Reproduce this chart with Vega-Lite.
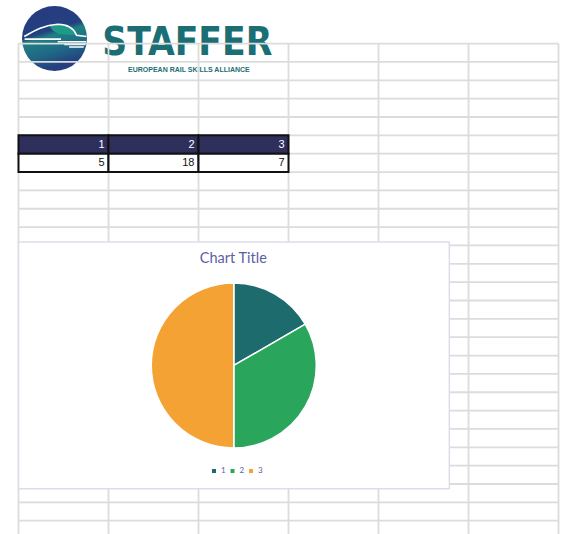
{
  "$schema": "https://vega.github.io/schema/vega-lite/v6.json",
  "width": 564,
  "height": 534,
  "autosize": "none",
  "padding": 0,
  "background": "#ffffff",
  "config": {"view": {"stroke": null}},
  "resolve": {"scale": {"color": "independent", "fill": "independent"}},
  "datasets": {
    "header": [{"brand": "STAFFER", "tagline": "EUROPEAN RAIL SKILLS ALLIANCE", "chartTitle": "Chart Title"}],
    "gridCols": [{"col": 0}, {"col": 1}, {"col": 2}, {"col": 3}, {"col": 4}, {"col": 5}, {"col": 6}],
    "gridRows": [{"row": 0}, {"row": 1}, {"row": 2}, {"row": 3}, {"row": 4}, {"row": 5}, {"row": 6}, {"row": 7}, {"row": 8}, {"row": 9}, {"row": 10}, {"row": 11}, {"row": 12}, {"row": 13}, {"row": 14}, {"row": 15}, {"row": 16}, {"row": 17}, {"row": 18}, {"row": 19}, {"row": 20}, {"row": 21}, {"row": 22}, {"row": 23}, {"row": 24}, {"row": 25}, {"row": 26}],
    "cells": [
      {"col": 0, "colEnd": 1, "row": 5, "rowEnd": 6, "text": "1", "part": "header"},
      {"col": 1, "colEnd": 2, "row": 5, "rowEnd": 6, "text": "2", "part": "header"},
      {"col": 2, "colEnd": 3, "row": 5, "rowEnd": 6, "text": "3", "part": "header"},
      {"col": 0, "colEnd": 1, "row": 6, "rowEnd": 7, "text": "5", "part": "value"},
      {"col": 1, "colEnd": 2, "row": 6, "rowEnd": 7, "text": "18", "part": "value"},
      {"col": 2, "colEnd": 3, "row": 6, "rowEnd": 7, "text": "7", "part": "value"}
    ],
    "pie": [{"category": "1", "value": 1}, {"category": "2", "value": 2}, {"category": "3", "value": 3}]
  },
  "layer": [
    {
      "data": {"name": "header"},
      "mark": {"type": "point", "shape": "circle", "filled": true, "size": 4225, "opacity": 1, "strokeWidth": 0,
        "fill": {"gradient": "linear", "x1": 0, "y1": 0, "x2": 0.3, "y2": 1, "stops": [
          {"offset": 0, "color": "#263a80"}, {"offset": 0.46, "color": "#24407f"}, {"offset": 0.54, "color": "#1f8082"}, {"offset": 0.78, "color": "#1f6886"}, {"offset": 1, "color": "#253f80"}]}},
      "encoding": {
        "x": {"datum": 0.4, "scale": {"type": "linear", "domain": [-0.2056, 6.0611], "nice": false, "zero": false}, "axis": null},
        "y": {"datum": -0.278, "scale": {"type": "linear", "domain": [-2.376, 26.725], "nice": false, "zero": false, "reverse": true}, "axis": null}
      }
    },
    {
      "data": {"name": "header"},
      "mark": {"type": "point", "filled": true, "size": 4225, "opacity": 1, "strokeWidth": 0, "fill": "#1d9a8a",
        "shape": "M -0.15 -0.38 C 0.1 -0.45 0.4 -0.43 0.55 -0.3 C 0.64 -0.22 0.67 -0.14 0.66 -0.1 L 0.15 -0.14 C 0.0 -0.2 -0.1 -0.28 -0.15 -0.38 Z"},
      "encoding": {
        "x": {"datum": 0.4, "scale": {"type": "linear", "domain": [-0.2056, 6.0611], "nice": false, "zero": false}, "axis": null},
        "y": {"datum": -0.278, "scale": {"type": "linear", "domain": [-2.376, 26.725], "nice": false, "zero": false, "reverse": true}, "axis": null}
      }
    },
    {
      "data": {"name": "header"},
      "mark": {"type": "point", "filled": false, "size": 4225, "opacity": 1, "stroke": "#ffffff", "strokeWidth": 1.6,
        "shape": "M -0.93 -0.06 C -0.6 -0.26 -0.3 -0.42 0.1 -0.44 C 0.4 -0.44 0.6 -0.3 0.68 -0.1 L 0.98 -0.06 M -0.92 0.02 L 0.2 0.02 M 0.1 0.1 L 0.97 0.1 M 0.3 0.18 L 0.95 0.18 M 0.45 0.26 L 0.9 0.26"},
      "encoding": {
        "x": {"datum": 0.4, "scale": {"type": "linear", "domain": [-0.2056, 6.0611], "nice": false, "zero": false}, "axis": null},
        "y": {"datum": -0.278, "scale": {"type": "linear", "domain": [-2.376, 26.725], "nice": false, "zero": false, "reverse": true}, "axis": null}
      }
    },
    {
      "data": {"name": "header"},
      "mark": {"type": "text", "align": "left", "baseline": "alphabetic", "font": "DejaVu Sans Condensed, sans-serif", "fontWeight": "bold", "fontSize": 38.5, "fill": "#1b6e73"},
      "encoding": {
        "text": {"field": "brand"},
        "x": {"datum": 0.931, "scale": {"type": "linear", "domain": [-0.2056, 6.0611], "nice": false, "zero": false}, "axis": null},
        "y": {"datum": 0.621, "scale": {"type": "linear", "domain": [-2.376, 26.725], "nice": false, "zero": false, "reverse": true}, "axis": null}
      }
    },
    {
      "data": {"name": "header"},
      "mark": {"type": "text", "align": "center", "baseline": "middle", "font": "Liberation Sans", "fontWeight": "bold", "fontSize": 7, "fill": "#1b6e73"},
      "encoding": {
        "text": {"field": "tagline"},
        "x": {"datum": 1.893, "scale": {"type": "linear", "domain": [-0.2056, 6.0611], "nice": false, "zero": false}, "axis": null},
        "y": {"datum": 1.439, "scale": {"type": "linear", "domain": [-2.376, 26.725], "nice": false, "zero": false, "reverse": true}, "axis": null}
      }
    },
    {
      "data": {"name": "gridCols"},
      "mark": {"type": "rule", "color": "#dcdcdc", "strokeWidth": 1.8},
      "encoding": {
        "x": {"field": "col", "type": "quantitative", "scale": {"type": "linear", "domain": [-0.2056, 6.0611], "nice": false, "zero": false}, "axis": null},
        "y": {"datum": 0, "scale": {"type": "linear", "domain": [-2.376, 26.725], "nice": false, "zero": false, "reverse": true}, "axis": null},
        "y2": {"datum": 26.725}
      }
    },
    {
      "data": {"name": "gridRows"},
      "mark": {"type": "rule", "color": "#dcdcdc", "strokeWidth": 1.8},
      "encoding": {
        "y": {"field": "row", "type": "quantitative", "scale": {"type": "linear", "domain": [-2.376, 26.725], "nice": false, "zero": false, "reverse": true}, "axis": null},
        "x": {"datum": 0, "scale": {"type": "linear", "domain": [-0.2056, 6.0611], "nice": false, "zero": false}, "axis": null},
        "x2": {"datum": 6}
      }
    },
    {
      "data": {"name": "cells"},
      "mark": {"type": "rect", "stroke": "#111111", "strokeWidth": 2},
      "encoding": {
        "x": {"field": "col", "type": "quantitative", "scale": {"type": "linear", "domain": [-0.2056, 6.0611], "nice": false, "zero": false}, "axis": null},
        "x2": {"field": "colEnd"},
        "y": {"field": "row", "type": "quantitative", "scale": {"type": "linear", "domain": [-2.376, 26.725], "nice": false, "zero": false, "reverse": true}, "axis": null},
        "y2": {"field": "rowEnd"},
        "fill": {"field": "part", "type": "nominal", "scale": {"domain": ["header", "value"], "range": ["#2e2f5b", "#ffffff"]}, "legend": null}
      }
    },
    {
      "data": {"name": "cells"},
      "transform": [{"filter": "datum.part === 'header'"}],
      "mark": {"type": "text", "align": "right", "baseline": "middle", "dx": -4, "dy": 9.7, "font": "Liberation Sans", "fontSize": 11, "fill": "#ffffff"},
      "encoding": {
        "text": {"field": "text"},
        "x": {"field": "colEnd", "type": "quantitative", "scale": {"type": "linear", "domain": [-0.2056, 6.0611], "nice": false, "zero": false}, "axis": null},
        "y": {"field": "row", "type": "quantitative", "scale": {"type": "linear", "domain": [-2.376, 26.725], "nice": false, "zero": false, "reverse": true}, "axis": null}
      }
    },
    {
      "data": {"name": "cells"},
      "transform": [{"filter": "datum.part === 'value'"}],
      "mark": {"type": "text", "align": "right", "baseline": "middle", "dx": -4, "dy": 9.7, "font": "Liberation Sans", "fontSize": 11, "fill": "#111111"},
      "encoding": {
        "text": {"field": "text"},
        "x": {"field": "colEnd", "type": "quantitative", "scale": {"type": "linear", "domain": [-0.2056, 6.0611], "nice": false, "zero": false}, "axis": null},
        "y": {"field": "row", "type": "quantitative", "scale": {"type": "linear", "domain": [-2.376, 26.725], "nice": false, "zero": false, "reverse": true}, "axis": null}
      }
    },
    {
      "data": {"name": "header"},
      "mark": {"type": "rect", "fill": "#ffffff", "stroke": "#dddde9", "strokeWidth": 1.5},
      "encoding": {
        "x": {"datum": 0, "scale": {"type": "linear", "domain": [-0.2056, 6.0611], "nice": false, "zero": false}, "axis": null},
        "x2": {"datum": 4.787},
        "y": {"datum": 10.81, "scale": {"type": "linear", "domain": [-2.376, 26.725], "nice": false, "zero": false, "reverse": true}, "axis": null},
        "y2": {"datum": 24.26}
      }
    },
    {
      "data": {"name": "pie"},
      "mark": {"type": "arc", "radius": 82.5, "stroke": "#ffffff", "strokeWidth": 1.5},
      "encoding": {
        "theta": {"field": "value", "type": "quantitative", "stack": true},
        "order": {"field": "category", "type": "ordinal"},
        "color": {"field": "category", "type": "nominal",
          "scale": {"domain": ["1", "2", "3"], "range": ["#1d6b6d", "#2aa65c", "#f4a234"]},
          "legend": {"orient": "none", "legendX": 210, "legendY": 467, "direction": "horizontal", "title": null, "symbolType": "square", "symbolSize": 16, "symbolStrokeWidth": 0, "labelFontSize": 8, "labelFont": "Lato", "labelColor": "#5b5ea6", "labelOffset": 3, "columnPadding": 2.5, "padding": 0}},
        "x": {"datum": 2.392, "scale": {"type": "linear", "domain": [-0.2056, 6.0611], "nice": false, "zero": false}, "axis": null},
        "y": {"datum": 17.54, "scale": {"type": "linear", "domain": [-2.376, 26.725], "nice": false, "zero": false, "reverse": true}, "axis": null}
      }
    },
    {
      "data": {"name": "header"},
      "mark": {"type": "text", "align": "center", "baseline": "middle", "font": "Lato", "fontSize": 14.5, "fill": "#5b5ea6"},
      "encoding": {
        "text": {"field": "chartTitle"},
        "x": {"datum": 2.387, "scale": {"type": "linear", "domain": [-0.2056, 6.0611], "nice": false, "zero": false}, "axis": null},
        "y": {"datum": 11.74, "scale": {"type": "linear", "domain": [-2.376, 26.725], "nice": false, "zero": false, "reverse": true}, "axis": null}
      }
    }
  ]
}
